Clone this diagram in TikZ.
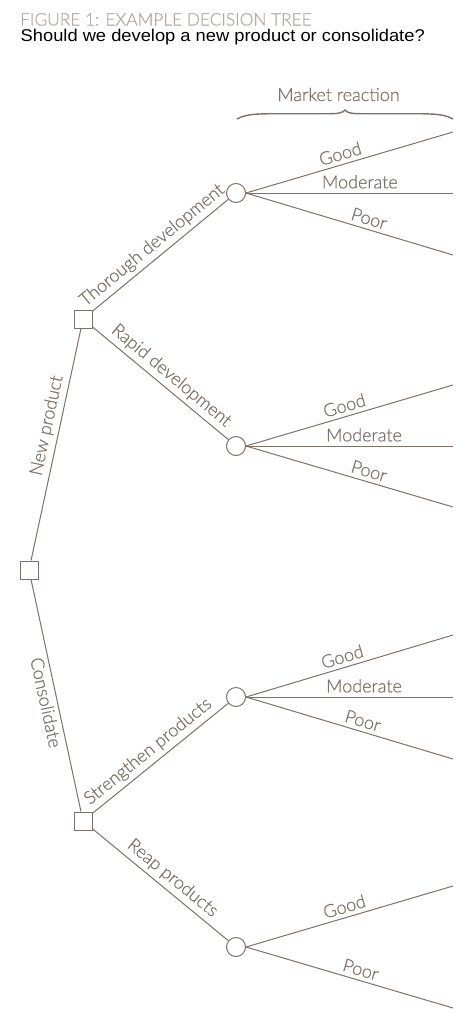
\documentclass[tikz,border=0pt]{standalone}
\usepackage{fontspec}
\setmainfont{Liberation Sans}
\IfFontExistsTF{Lato Light}{\newfontfamily\labfont{Lato Light}[FakeBold=0.5]}{\newfontfamily\labfont{Lato}}
\definecolor{linecol}{RGB}{124,114,106}
\definecolor{titlecol}{RGB}{178,170,163}
\tikzset{
  lab/.style={font=\labfont\fontsize{18}{21}\selectfont, text=linecol, inner sep=4pt},
  dec/.style={draw=linecol, line width=1pt, minimum size=18pt, inner sep=0pt, fill=white},
  chance/.style={circle, draw=linecol, line width=1pt, minimum size=19pt, inner sep=0pt, fill=white},
  conn/.style={draw=linecol, line width=1pt},
}
\begin{document}
\begin{tikzpicture}[x=1pt,y=-1pt]
\useasboundingbox[fill=white] (0,0) rectangle (465,1017);
% titles
\node[anchor=base west, font=\labfont\fontsize{17.3}{20}\selectfont, text=titlecol, inner sep=0pt] (title) at (20,25.5) {FIGURE 1: EXAMPLE DECISION TREE};
\node[anchor=base west, font=\fontsize{17}{20}\selectfont, text=black, inner sep=0pt] (sub) at (20.5,41.7) {\scalebox{1.077}[1]{Should we develop a new product or consolidate?}};
% market reaction
\node[lab, anchor=base, inner sep=0pt] (mr) at (338.5,101) {Market reaction};
\coordinate (brL) at (237,119);
\coordinate (brT) at (345,110);
\coordinate (brR) at (453,119);
\draw[linecol, line width=1.4pt] (brL) .. controls (246,114) and (256,114) .. (272,113.7) -- (330,113.7) .. controls (340,113.7) and (343,112.5) .. (brT) .. controls (347,112.5) and (350,113.7) .. (360,113.7) -- (418,113.7) .. controls (434,114) and (444,114) .. (brR);
% nodes
\node[dec] (root) at (29,570) {};
\node[dec] (up) at (83,319) {};
\node[dec] (lo) at (83,821) {};
\node[chance] (c1) at (236,193) {};
\node[chance] (c2) at (236,446) {};
\node[chance] (c3) at (236,697) {};
\node[chance] (c4) at (236,947) {};
% branch ends
\coordinate (g1) at (453,132);
\coordinate (m1) at (453,193);
\coordinate (p1) at (453,255);
\coordinate (g2) at (453,385);
\coordinate (m2) at (453,446);
\coordinate (p2) at (453,507);
\coordinate (g3) at (453,635);
\coordinate (m3) at (453,697);
\coordinate (p3) at (453,759);
\coordinate (g4) at (453,886);
\coordinate (p4) at (453,1008);
% decision branches
\draw[conn] (root) -- node[lab,sloped,above,pos=.57]{New product} (up);
\draw[conn] (root) -- node[lab,sloped,below,pos=.52]{Consolidate} (lo);
\draw[conn] (up) -- node[lab,sloped,above,pos=.5]{Thorough development} (c1);
\draw[conn] (up) -- node[lab,sloped,above,pos=.52]{Rapid development} (c2);
\draw[conn] (lo) -- node[lab,sloped,above,pos=.47]{Strengthen products} (c3);
\draw[conn] (lo) -- node[lab,sloped,above,pos=.53]{Reap products} (c4);
% chance branches
\draw[conn] (c1.east) -- node[lab,sloped,above,pos=.47]{Good} (g1);
\draw[conn] (c1.east) -- node[lab,above,pos=.55]{Moderate} (m1);
\draw[conn] (c1.east) -- node[lab,sloped,above,pos=.58]{Poor} (p1);
\draw[conn] (c2.east) -- node[lab,sloped,above,pos=.49]{Good} (g2);
\draw[conn] (c2.east) -- node[lab,above,pos=.57]{Moderate} (m2);
\draw[conn] (c2.east) -- node[lab,sloped,above,pos=.58]{Poor} (p2);
\draw[conn] (c3.east) -- node[lab,sloped,above,pos=.48]{Good} (g3);
\draw[conn] (c3.east) -- node[lab,above,pos=.57]{Moderate} (m3);
\draw[conn] (c3.east) -- node[lab,sloped,above,pos=.55]{Poor} (p3);
\draw[conn] (c4.east) -- node[lab,sloped,above,pos=.49]{Good} (g4);
\draw[conn] (c4.east) -- node[lab,sloped,above,pos=.54]{Poor} (p4);
\end{tikzpicture}
\end{document}
